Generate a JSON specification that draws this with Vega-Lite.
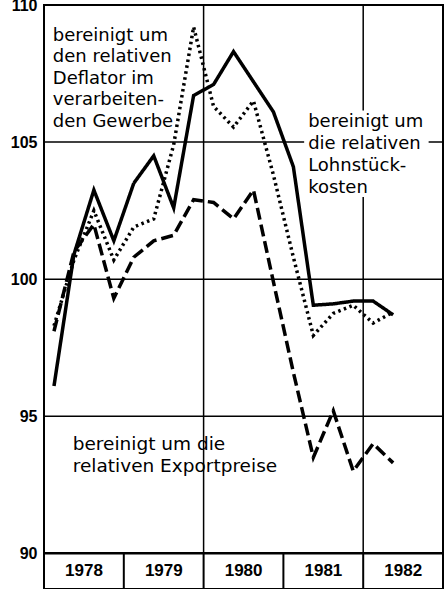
{
  "$schema": "https://vega.github.io/schema/vega-lite/v6.json",
  "width": 399,
  "height": 584,
  "autosize": {"type": "none"},
  "padding": {"left": 44, "top": 5, "right": 1, "bottom": 0},
  "background": "white",
  "config": {"view": {"stroke": "black", "strokeWidth": 2}},
  "datasets": {
    "series": [
      {"t": 1978.125, "s": "Lohnstückkosten", "v": 96.1},
      {"t": 1978.375, "s": "Lohnstückkosten", "v": 100.9},
      {"t": 1978.625, "s": "Lohnstückkosten", "v": 103.25},
      {"t": 1978.875, "s": "Lohnstückkosten", "v": 101.4},
      {"t": 1979.125, "s": "Lohnstückkosten", "v": 103.5},
      {"t": 1979.375, "s": "Lohnstückkosten", "v": 104.5},
      {"t": 1979.625, "s": "Lohnstückkosten", "v": 102.6},
      {"t": 1979.875, "s": "Lohnstückkosten", "v": 106.7},
      {"t": 1980.125, "s": "Lohnstückkosten", "v": 107.1},
      {"t": 1980.375, "s": "Lohnstückkosten", "v": 108.3},
      {"t": 1980.625, "s": "Lohnstückkosten", "v": 107.2},
      {"t": 1980.875, "s": "Lohnstückkosten", "v": 106.1},
      {"t": 1981.125, "s": "Lohnstückkosten", "v": 104.1},
      {"t": 1981.375, "s": "Lohnstückkosten", "v": 99.05},
      {"t": 1981.625, "s": "Lohnstückkosten", "v": 99.1},
      {"t": 1981.875, "s": "Lohnstückkosten", "v": 99.2},
      {"t": 1982.125, "s": "Lohnstückkosten", "v": 99.2},
      {"t": 1982.375, "s": "Lohnstückkosten", "v": 98.7},
      {"t": 1978.125, "s": "Deflator", "v": 98.3},
      {"t": 1978.375, "s": "Deflator", "v": 100.7},
      {"t": 1978.625, "s": "Deflator", "v": 102.5},
      {"t": 1978.875, "s": "Deflator", "v": 100.7},
      {"t": 1979.125, "s": "Deflator", "v": 101.9},
      {"t": 1979.375, "s": "Deflator", "v": 102.2},
      {"t": 1979.625, "s": "Deflator", "v": 104.9},
      {"t": 1979.875, "s": "Deflator", "v": 109.2},
      {"t": 1980.125, "s": "Deflator", "v": 106.3},
      {"t": 1980.375, "s": "Deflator", "v": 105.55},
      {"t": 1980.625, "s": "Deflator", "v": 106.5},
      {"t": 1980.875, "s": "Deflator", "v": 103.8},
      {"t": 1981.125, "s": "Deflator", "v": 100.8},
      {"t": 1981.375, "s": "Deflator", "v": 97.95},
      {"t": 1981.625, "s": "Deflator", "v": 98.75},
      {"t": 1981.875, "s": "Deflator", "v": 99.05},
      {"t": 1982.125, "s": "Deflator", "v": 98.4},
      {"t": 1982.375, "s": "Deflator", "v": 98.8},
      {"t": 1978.125, "s": "Exportpreise", "v": 98.1},
      {"t": 1978.375, "s": "Exportpreise", "v": 101.0},
      {"t": 1978.625, "s": "Exportpreise", "v": 102.0},
      {"t": 1978.875, "s": "Exportpreise", "v": 99.3},
      {"t": 1979.125, "s": "Exportpreise", "v": 100.8},
      {"t": 1979.375, "s": "Exportpreise", "v": 101.4},
      {"t": 1979.625, "s": "Exportpreise", "v": 101.6},
      {"t": 1979.875, "s": "Exportpreise", "v": 102.9},
      {"t": 1980.125, "s": "Exportpreise", "v": 102.8},
      {"t": 1980.375, "s": "Exportpreise", "v": 102.2},
      {"t": 1980.625, "s": "Exportpreise", "v": 103.25},
      {"t": 1980.875, "s": "Exportpreise", "v": 99.9},
      {"t": 1981.125, "s": "Exportpreise", "v": 96.6},
      {"t": 1981.375, "s": "Exportpreise", "v": 93.5},
      {"t": 1981.625, "s": "Exportpreise", "v": 95.2},
      {"t": 1981.875, "s": "Exportpreise", "v": 93.0},
      {"t": 1982.125, "s": "Exportpreise", "v": 94.0},
      {"t": 1982.375, "s": "Exportpreise", "v": 93.3}
    ],
    "hgrid": [{"g": 95}, {"g": 100}, {"g": 105}],
    "vgrid": [{"year": 1980}, {"year": 1982}],
    "seps": [{"year": 1979}, {"year": 1980}, {"year": 1981}, {"year": 1982}],
    "years": [{"year": 1978}, {"year": 1979}, {"year": 1980}, {"year": 1981}, {"year": 1982}],
    "one": [{}]
  },
  "layer": [
    {
      "data": {"name": "hgrid"},
      "mark": {"type": "rule", "color": "black", "strokeWidth": 1.5},
      "encoding": {
        "y": {
          "field": "g", "type": "quantitative", "title": null,
          "scale": {"domain": [88.7, 110], "nice": false, "zero": false},
          "axis": {
            "values": [90, 95, 100, 105, 110], "ticks": false, "domain": false, "grid": false,
            "labelFont": "Liberation Sans", "labelFontWeight": "bold", "labelFontSize": 16,
            "labelColor": "black", "labelPadding": 7
          }
        }
      }
    },
    {
      "data": {"name": "one"},
      "mark": {"type": "rule", "color": "black", "strokeWidth": 2.5},
      "encoding": {"y": {"datum": 90, "type": "quantitative"}}
    },
    {
      "data": {"name": "vgrid"},
      "mark": {"type": "rule", "color": "black", "strokeWidth": 1.5},
      "encoding": {
        "x": {"field": "year", "type": "quantitative", "axis": null,
              "scale": {"domain": [1978, 1983], "nice": false, "zero": false}},
        "y": {"datum": 90, "type": "quantitative"},
        "y2": {"datum": 110}
      }
    },
    {
      "data": {"name": "seps"},
      "mark": {"type": "rule", "color": "black", "strokeWidth": 2},
      "encoding": {
        "x": {"field": "year", "type": "quantitative", "axis": null},
        "y": {"datum": 88.7, "type": "quantitative"},
        "y2": {"datum": 90}
      }
    },
    {
      "data": {"name": "one"},
      "mark": {"type": "rect", "color": "white"},
      "encoding": {
        "x": {"datum": 1981.26, "type": "quantitative", "axis": null},
        "x2": {"datum": 1982.82},
        "y": {"datum": 106.15, "type": "quantitative"},
        "y2": {"datum": 103.0}
      }
    },
    {
      "data": {"name": "series"},
      "mark": {"type": "line", "color": "black", "strokeWidth": 3.5},
      "encoding": {
        "x": {"field": "t", "type": "quantitative", "axis": null},
        "y": {"field": "v", "type": "quantitative", "title": null},
        "detail": {"field": "s"},
        "strokeDash": {
          "field": "s", "type": "nominal", "legend": null,
          "scale": {"domain": ["Lohnstückkosten", "Deflator", "Exportpreise"], "range": [[1, 0], [2.5, 3.5], [12, 5]]}
        }
      }
    },
    {
      "data": {"name": "years"},
      "mark": {"type": "text", "font": "Liberation Sans", "fontWeight": "bold", "fontSize": 17, "dx": 40, "align": "center", "baseline": "middle", "color": "black"},
      "encoding": {
        "x": {"field": "year", "type": "quantitative", "axis": null},
        "y": {"datum": 89.35, "type": "quantitative"},
        "text": {"field": "year", "type": "nominal"}
      }
    },
    {
      "data": {"name": "one"},
      "mark": {"type": "text", "font": "DejaVu Sans", "fontSize": 18, "align": "left", "baseline": "top", "lineBreak": "\n", "lineHeight": 21.5, "color": "black"},
      "encoding": {
        "x": {"datum": 1978.11, "type": "quantitative", "axis": null},
        "y": {"datum": 109.2, "type": "quantitative"},
        "text": {"value": "bereinigt um\nden relativen\nDeflator im\nverarbeiten-\nden Gewerbe"}
      }
    },
    {
      "data": {"name": "one"},
      "mark": {"type": "text", "font": "DejaVu Sans", "fontSize": 18, "align": "left", "baseline": "top", "lineBreak": "\n", "lineHeight": 22, "color": "black"},
      "encoding": {
        "x": {"datum": 1981.31, "type": "quantitative", "axis": null},
        "y": {"datum": 106.05, "type": "quantitative"},
        "text": {"value": "bereinigt um\ndie relativen\nLohnstück-\nkosten"}
      }
    },
    {
      "data": {"name": "one"},
      "mark": {"type": "text", "font": "DejaVu Sans", "fontSize": 18.5, "align": "left", "baseline": "top", "lineBreak": "\n", "lineHeight": 22, "color": "black"},
      "encoding": {
        "x": {"datum": 1978.36, "type": "quantitative", "axis": null},
        "y": {"datum": 94.32, "type": "quantitative"},
        "text": {"value": "bereinigt um die\nrelativen Exportpreise"}
      }
    }
  ]
}
